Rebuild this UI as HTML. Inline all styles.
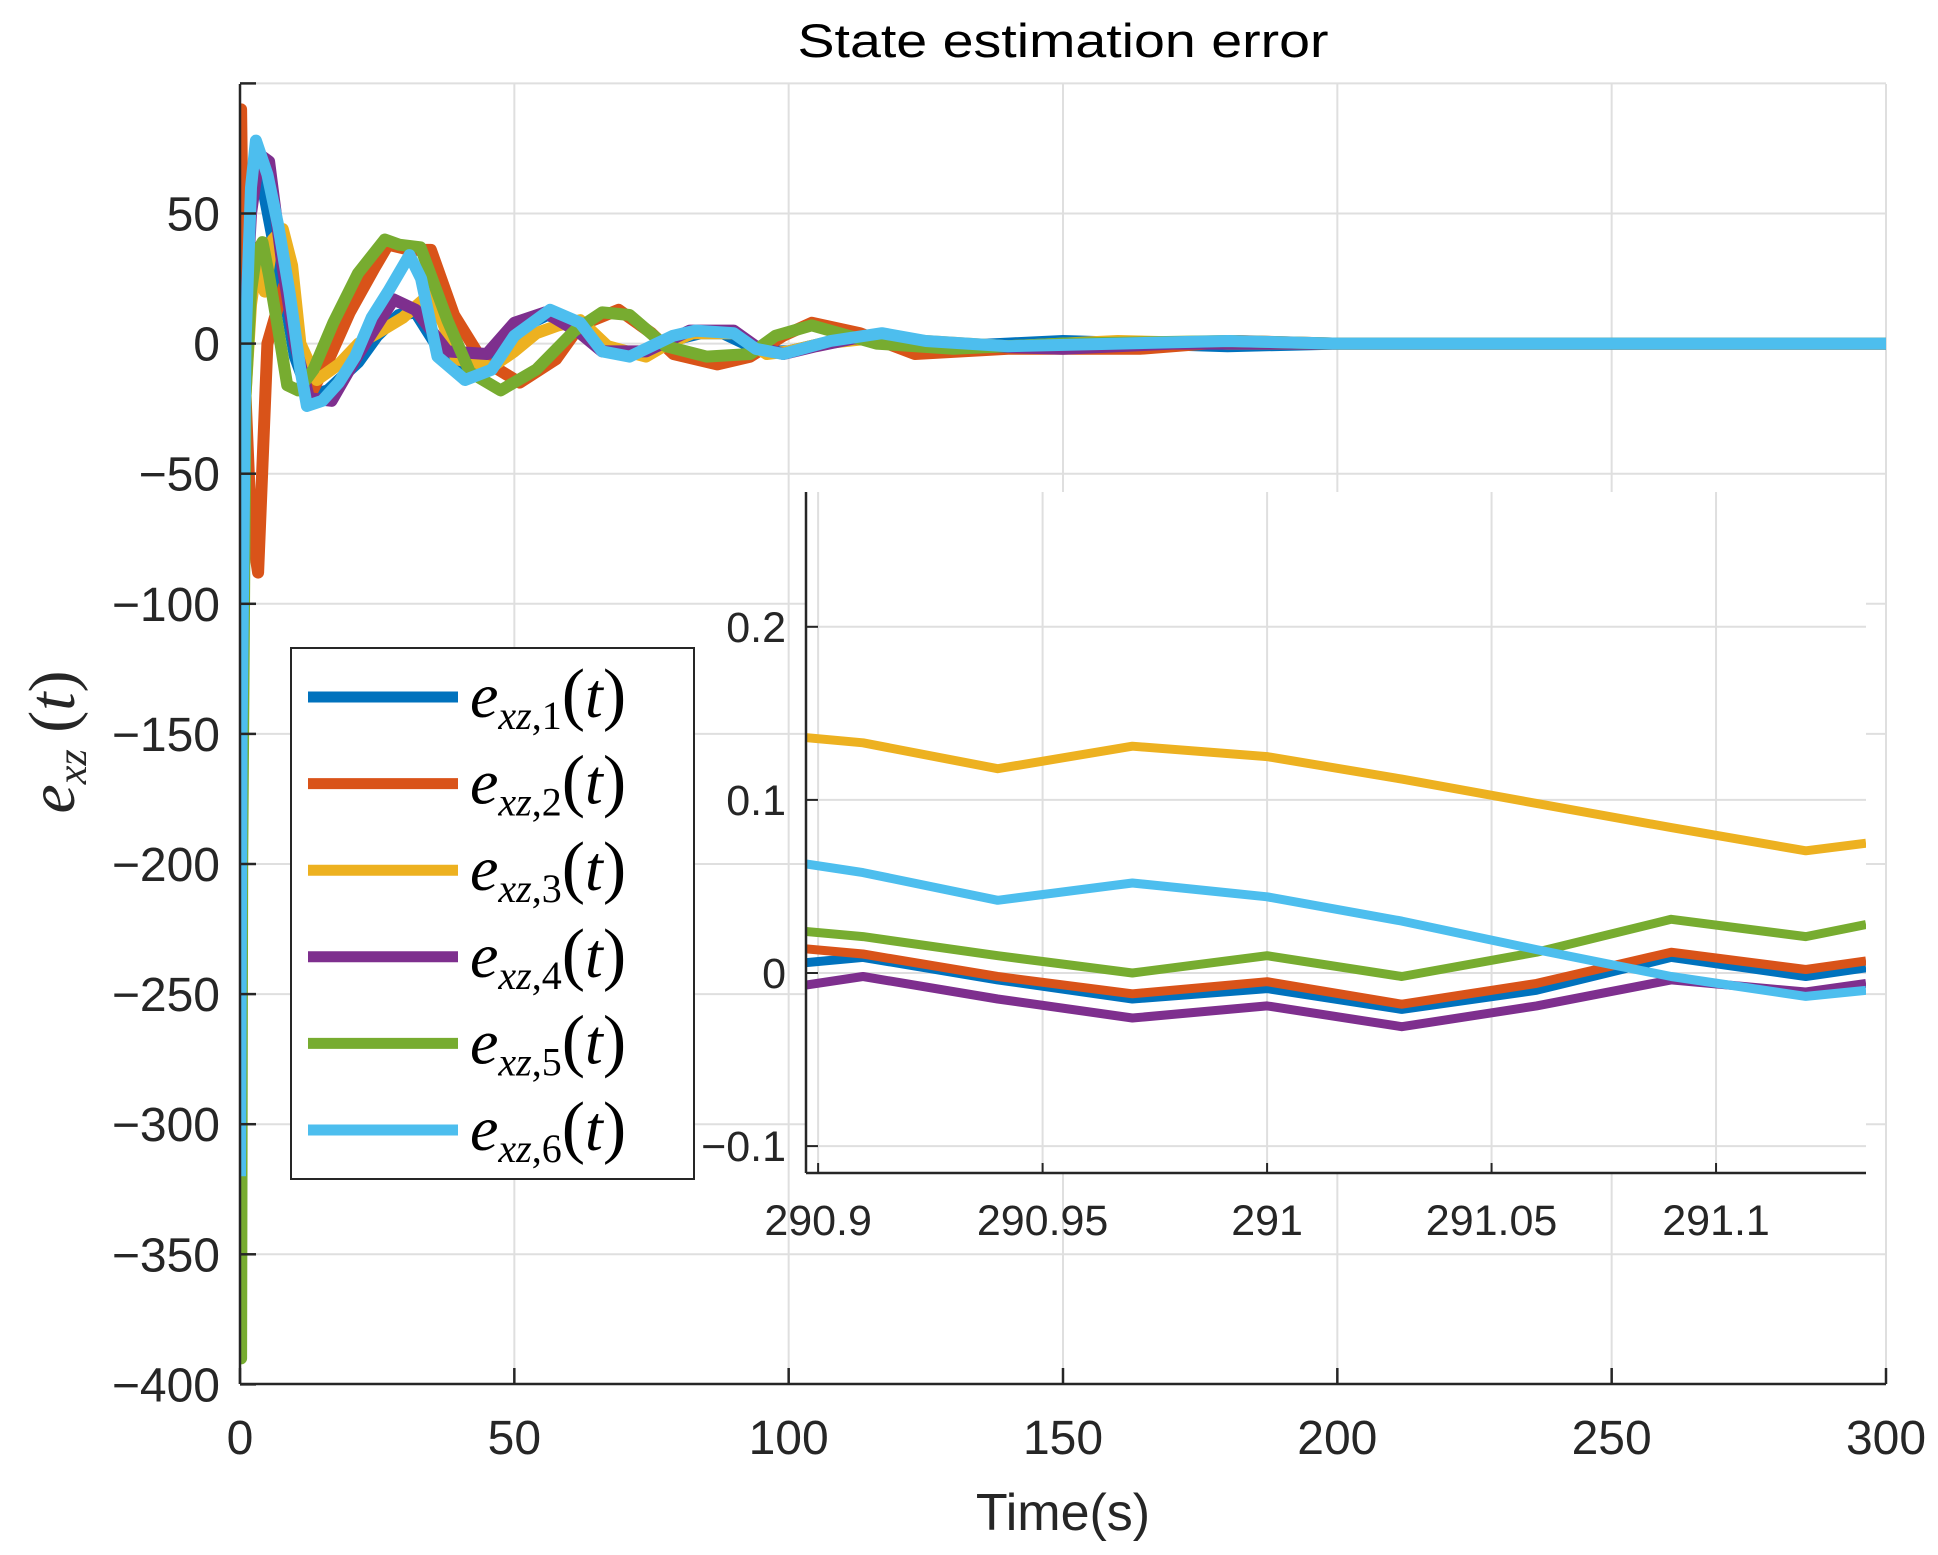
<!DOCTYPE html>
<html><head><meta charset="utf-8">
<style>
html,body{margin:0;padding:0;background:#fff;}
svg{display:block;font-family:"Liberation Sans",Arial,sans-serif;}
</style></head>
<body>
<svg id="chart" width="1938" height="1555" viewBox="0 0 1938 1555" xmlns="http://www.w3.org/2000/svg">
<rect x="0" y="0" width="1938" height="1555" fill="#fff"/>
<defs>
<clipPath id="mainClip"><rect x="240" y="84" width="1646" height="1300"/></clipPath>
<clipPath id="insetClip"><rect x="806" y="492" width="1060" height="681"/></clipPath>
</defs>
<g id="mainGrid"></g>
<g id="mainLines" clip-path="url(#mainClip)"></g>
<g id="mainAxes"></g>
<text x="1063" y="57" text-anchor="middle" font-size="47" fill="#000" textLength="531" lengthAdjust="spacingAndGlyphs">State estimation error</text>
<text x="1063" y="1530" text-anchor="middle" font-size="52" fill="#262626">Time(s)</text>
<text transform="translate(74,742) rotate(-90)" text-anchor="middle" font-family="Liberation Serif, serif" font-style="italic" font-size="66" fill="#262626">e<tspan font-size="42" dy="12">xz</tspan><tspan dy="-12" font-style="normal"> (</tspan>t<tspan font-style="normal">)</tspan></text>
<g id="inset"></g>
<g id="legend"></g>
</svg>
<script>
// ---- main chart data ----
const colors = ["#0072BD","#D95319","#EDB120","#7E2F8E","#77AC30","#4DBEEE"];
const seriesNames = ["1","2","3","4","5","6"];
const mainXTicks = [0,50,100,150,200,250,300];
const mainYTicks = [-400,-350,-300,-250,-200,-150,-100,-50,0,50,100];
const mainYLabels = ["\u2212400","\u2212350","\u2212300","\u2212250","\u2212200","\u2212150","\u2212100","\u221250","0","50",""];
const s1t = [0,0.3,1,2,3,4,6,8,10,12.6,16,21.6,25,28.9,32,35,38,41,45,49,53,56,60,64,68,72,76,80,84,88,92,96,100,106,112,120,130,140,150,165,180,200,220,250,300];
const s1v = [-300,-150,10,55,68,62,40,20,-5,-20,-18,-7,3,11,12,2,-8,-10,-8,0,8,11,8,2,-3,-4,-2,2,4,4,0,-3,-3,0,2,1,-1,0,1,0,-1,0,0,0,0];
const s2t = [0,0.2,0.5,1,2,3.3,5,8,10,13,16.2,20,24.5,27,31,34.8,39,44,51,57.6,62,69,75,79,87,93,99,104.2,113,123,140,164,182,200,230,300];
const s2v = [90,90,40,-20,-70,-88,0,22,5,-19,-6,12,29,38,36,36,11,-6,-15,-6,7,13,4,-4,-8,-5,3,8,4,-4,-2,-2,1,0,0,0];
const s3t = [0,1,2,3,4.5,6,7.8,9.5,11,14,18,21.6,25,29.7,34.6,37,39.4,45.9,50,54,58,62,67,74,78,82.5,90,96,100,106,115,125,140,160,180,200,250,300];
const s3v = [0,-20,15,30,20,40,44,30,0,-14,-8,0,4,10,19,8,-6,-9,-3,4,7,9,-1,-5,0,4,4,-4,-3,0,2,1,-1,1,0,0,0,0];
const s4t = [0,0.3,1,2,3,4,5.3,7.8,10,12.6,16.7,21.6,28,32,37.8,45,50,55.6,62,66,74,82,90,94,99,105,112,120,135,150,170,200,250,300];
const s4v = [-280,-120,10,50,65,72,70,29,0,-21,-22,-4,17,13,-3,-4,8,12,4,-3,-3,5,5,-1,-4,-1,2,1,-1,-2,0,0,0,0];
const s5t = [0,0.2,0.4,1,2,3,4.1,5.3,7,8.6,10.6,13.4,17,21.5,26.4,29,32.9,37.8,41.9,47.5,54,61,66,71,77.6,85,93,97.6,104.2,116,130,150,180,200,250,300];
const s5v = [10,-390,-200,-20,20,35,39,26,5,-16,-18,-10,8,27,40,38,37,9,-11,-18,-10,5,12,11,-1,-5,-4,3,7,0,-2,0,1,0,0,0];
const s6t = [0,0.3,1,2,2.9,5,7,9,11,12.2,15,18,21,24,27,30.9,33,36,41,45.9,50,56.5,62,66,71,78.9,83,90,94,99,107.6,117,125,140,160,180,200,250,300];
const s6v = [-320,-150,0,60,78,65,45,20,-10,-24,-22,-15,-5,10,20,34,25,-5,-14,-10,3,13,8,-3,-5,3,5,4,-2,-4,1,4,1,-1,0,1,0,0,0];
const mainT = [s1t,s2t,s3t,s4t,s5t,s6t];
const mainV = [s1v,s2v,s3v,s4v,s5v,s6v];
const drawOrder = [0,1,2,3,4,5];

// ---- inset data ----
const insetT = [290.8973,290.91,290.94,290.97,291.0,291.03,291.06,291.09,291.12,291.1334];
const in1 = [0.006,0.009,-0.004,-0.015,-0.009,-0.021,-0.010,0.009,-0.002,0.003];
const in2 = [0.014,0.011,-0.002,-0.012,-0.005,-0.018,-0.006,0.012,0.002,0.007];
const in3 = [0.136,0.133,0.118,0.131,0.125,0.112,0.098,0.084,0.0706,0.075];
const in4 = [-0.007,-0.002,-0.015,-0.026,-0.019,-0.031,-0.019,-0.004,-0.011,-0.006];
const in5 = [0.024,0.021,0.010,0.000,0.010,-0.002,0.012,0.031,0.021,0.028];
const in6 = [0.063,0.058,0.042,0.052,0.044,0.030,0.0135,-0.002,-0.0135,-0.010];
const insetV = [in1,in2,in3,in4,in5,in6];
const insetXTicks = [290.9,290.95,291,291.05,291.1];
const insetXLabels = ["290.9","290.95","291","291.05","291.1"];
const insetYTicks = [-0.1,0,0.1,0.2];
const insetYLabels = ["\u22120.1","0","0.1","0.2"];

const NS="http://www.w3.org/2000/svg";
function mk(tag, attrs, parent){const e=document.createElementNS(NS,tag);for(const k in attrs)e.setAttribute(k,attrs[k]);parent.appendChild(e);return e;}

const mx = t => 240 + (t-0)/300*1646;
const my = v => 343.6 - v*2.602;

const grid=document.getElementById('mainGrid');
mainXTicks.forEach(t=>{ if(t>0){const l=mk('line',{x1:mx(t),x2:mx(t),y1:84,y2:1384,stroke:'#dfdfdf','stroke-width':2},grid);

}});
mainYTicks.forEach(v=>{ if(v>-400){const l=mk('line',{x1:240,x2:1886,y1:my(v),y2:my(v),stroke:'#dfdfdf','stroke-width':2},grid);

}});

const ml=document.getElementById('mainLines');
drawOrder.forEach(i=>{
  const pts=mainT[i].map((t,j)=>mx(t).toFixed(1)+','+my(mainV[i][j]).toFixed(1)).join(' ');
  const p=mk('polyline',{points:pts,fill:'none',stroke:colors[i],'stroke-width':12,'stroke-linejoin':'round'},ml);
  
  
});

const ax=document.getElementById('mainAxes');
const la=mk('line',{x1:240,x2:240,y1:84,y2:1384,stroke:'#262626','stroke-width':2.5},ax);


const lb=mk('line',{x1:240,x2:1886,y1:1384,y2:1384,stroke:'#262626','stroke-width':2.5},ax);


mainXTicks.forEach(t=>{
  const tk=mk('line',{x1:mx(t),x2:mx(t),y1:1384,y2:1368,stroke:'#262626','stroke-width':2.5},ax);
  
  
  const tx=mk('text',{x:mx(t),y:1454,'text-anchor':'middle','font-size':48,fill:'#262626'},ax);
  tx.textContent=String(t);
  
  
});
mainYTicks.forEach((v,k)=>{
  const tk=mk('line',{x1:240,x2:256,y1:my(v),y2:my(v),stroke:'#262626','stroke-width':2.5},ax);
  
  
  const tx=mk('text',{x:220,y:my(v)+17,'text-anchor':'end','font-size':48,fill:'#262626'},ax);
  tx.textContent=mainYLabels[k];
  
  
});

// inset
const IL=806, IR=1866, IT=492, IB=1173;
const ix = t => IL + (t-290.8973)/(291.1334-290.8973)*(IR-IL);
const iy = v => 973 - v*1731;
const ins=document.getElementById('inset');
const bg=mk('rect',{x:IL,y:IT,width:IR-IL,height:IB-IT,fill:'#fff'},ins);


insetXTicks.forEach(t=>{
  const l=mk('line',{x1:ix(t),x2:ix(t),y1:IT,y2:IB,stroke:'#dfdfdf','stroke-width':2},ins);
  
  
});
insetYTicks.forEach(v=>{
  const l=mk('line',{x1:IL,x2:IR,y1:iy(v),y2:iy(v),stroke:'#dfdfdf','stroke-width':2},ins);
  
  
});
const ig=mk('g',{'clip-path':'url(#insetClip)'},ins);


drawOrder.forEach(i=>{
  const pts=insetT.map((t,j)=>ix(t).toFixed(1)+','+iy(insetV[i][j]).toFixed(1)).join(' ');
  const p=mk('polyline',{points:pts,fill:'none',stroke:colors[i],'stroke-width':9,'stroke-linejoin':'round'},ig);
  
  
});
const il=mk('line',{x1:IL,x2:IL,y1:IT,y2:IB,stroke:'#262626','stroke-width':2.5},ins);


const ib=mk('line',{x1:IL,x2:IR,y1:IB,y2:IB,stroke:'#262626','stroke-width':2.5},ins);


insetXTicks.forEach((t,k)=>{
  const tk=mk('line',{x1:ix(t),x2:ix(t),y1:IB,y2:IB-10,stroke:'#262626','stroke-width':2},ins);
  
  
  const tx=mk('text',{x:ix(t),y:1235,'text-anchor':'middle','font-size':43,fill:'#262626'},ins);
  tx.textContent=insetXLabels[k];
  
  
});
insetYTicks.forEach((v,k)=>{
  const tk=mk('line',{x1:IL,x2:IL+12,y1:iy(v),y2:iy(v),stroke:'#262626','stroke-width':2},ins);
  
  
  const tx=mk('text',{x:786,y:iy(v)+15,'text-anchor':'end','font-size':43,fill:'#262626'},ins);
  tx.textContent=insetYLabels[k];
  
  
});

// legend
const lg=document.getElementById('legend');
const box=mk('rect',{x:291,y:648,width:403,height:531,fill:'#fff',stroke:'#262626','stroke-width':2},lg);


seriesNames.forEach((n,i)=>{
  const y=697+i*86.6;
  const g=mk('g',{},lg);
  
  
  mk('line',{x1:308,x2:458,y1:y,y2:y,stroke:colors[i],'stroke-width':11},g);
  const tx=mk('text',{x:470,y:y+20,'font-family':'Liberation Serif, serif','font-size':64,fill:'#000'},g);
  tx.innerHTML='<tspan font-style="italic">e</tspan><tspan font-style="italic" font-size="40" dy="12">xz</tspan><tspan font-size="40">,'+n+'</tspan><tspan dy="-12" font-size="70">(</tspan><tspan font-style="italic">t</tspan><tspan font-size="70">)</tspan>';
  
  
});
</script>
</body></html>
